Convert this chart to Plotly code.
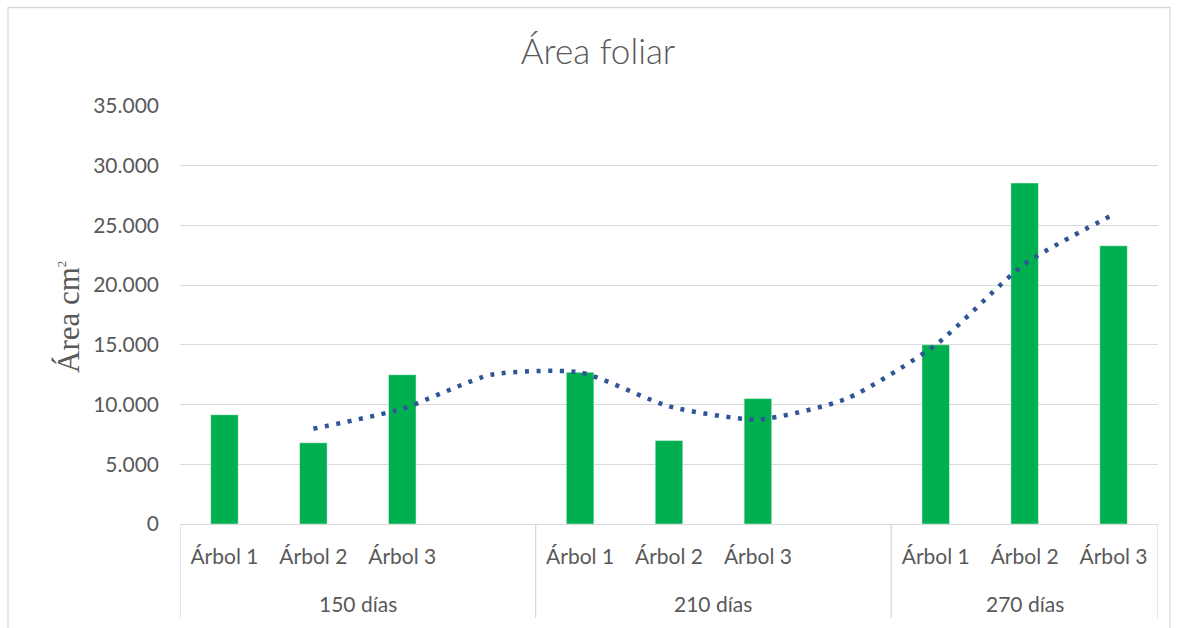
import plotly.graph_objects as go

# ---- data ----
groups = ["150 días"] * 4 + ["210 días"] * 4 + ["270 días"] * 3
trees = ["Árbol 1", "Árbol 2", "Árbol 3", "",
         "Árbol 1", "Árbol 2", "Árbol 3", "",
         "Árbol 1", "Árbol 2", "Árbol 3"]
area = [9150, 6800, 12500, None, 12700, 7000, 10500, None, 15000, 28550, 23300]

title_text = "Área foliar"
y_title = "Área cm<sup><span style='font-size:13px'>2</span></sup>"
y_ticks = [0, 5000, 10000, 15000, 20000, 25000, 30000, 35000]

# 2-period moving average (Excel-style trendline, blanks ignored)
trend = [None]
for i in range(1, len(area)):
    vals = [v for v in (area[i - 1], area[i]) if v is not None]
    trend.append(sum(vals) / len(vals) if vals else None)

pos = list(range(len(trees)))
label_pos = [p for p, t in zip(pos, trees) if t]
label_txt = [t for t in trees if t]

W, H = 1179, 628
L, R, T, B = 180, 21, 106, 104
pw, ph = W - L - R, H - T - B

def px_x(p):
    return (p - L) / pw

def px_y(p):
    return (H - B - p) / ph

GRAY = "#595959"
GRID = "#D9D9D9"
FONT = "Lato"

fig = go.Figure()
fig.add_trace(go.Bar(
    x=pos, y=area,
    marker=dict(color="#00B050", line=dict(color="rgba(255,255,255,0.45)", width=1)),
    width=0.31, showlegend=False, hoverinfo="y",
))
fig.add_trace(go.Scatter(
    x=pos, y=trend, mode="lines",
    line=dict(color="#2F5597", width=4.5, dash="4px,7.6px", shape="spline", smoothing=0.6),
    showlegend=False,
))

# group labels and dividers computed from the category lists
annotations = []
shapes = []
group_names = []
for g in groups:
    if g not in group_names:
        group_names.append(g)
x_lo, x_hi = -0.5, len(trees) - 0.5
bounds = []
for g in group_names:
    idx = [i for i, gg in enumerate(groups) if gg == g]
    lo, hi = idx[0] - 0.5, idx[-1] + 0.5
    bounds.append(lo)
    annotations.append(dict(
        text=g, x=(lo + hi) / 2, xref="x", y=px_y(603), yref="paper",
        xanchor="center", yanchor="middle", showarrow=False,
        font=dict(family=FONT, size=21, color=GRAY),
    ))
bounds.append(x_hi)
for b in bounds:
    shapes.append(dict(type="line", xref="x", yref="paper", x0=b, x1=b,
                       y0=0, y1=px_y(618), line=dict(color=GRID, width=1.3)))

annotations.append(dict(
    text=y_title, xref="paper", yref="paper", x=px_x(68), y=px_y(317),
    xanchor="center", yanchor="middle", textangle=-90, showarrow=False,
    font=dict(family="Liberation Serif", size=31, color=GRAY),
))
shapes.append(dict(
    type="rect", xref="paper", yref="paper",
    x0=px_x(8), x1=px_x(1170), y0=px_y(640), y1=px_y(7.5),
    line=dict(color=GRID, width=1.3), fillcolor="rgba(0,0,0,0)", layer="below",
))

fig.update_layout(
    width=W, height=H,
    margin=dict(l=L, r=R, t=T, b=B, autoexpand=False),
    paper_bgcolor="white", plot_bgcolor="white",
    separators=",.",
    font=dict(family=FONT, size=21, color=GRAY),
    title=dict(text=title_text, x=598 / W, xanchor="center", xref="container",
               y=1 - 52 / H, yanchor="middle", yref="container",
               font=dict(family=FONT, size=35, color=GRAY, weight=300)),
    xaxis=dict(
        tickvals=label_pos, ticktext=label_txt, range=[x_lo, x_hi],
        showgrid=False, showline=True, linecolor=GRID, linewidth=1.3,
        ticks="", zeroline=False, ticklabelstandoff=14,
        tickfont=dict(family=FONT, size=21, color=GRAY),
    ),
    yaxis=dict(
        range=[0, 35000], tickvals=y_ticks, tickformat=",d",
        showgrid=True, gridcolor=GRID, gridwidth=1.3, zeroline=False,
        showline=False, ticks="", ticklabelstandoff=20,
        tickfont=dict(family=FONT, size=21, color=GRAY),
    ),
    annotations=annotations,
    shapes=shapes,
)

fig.write_html("out.html", config={"displayModeBar": False},
               post_script="document.body.style.margin='0px';")
